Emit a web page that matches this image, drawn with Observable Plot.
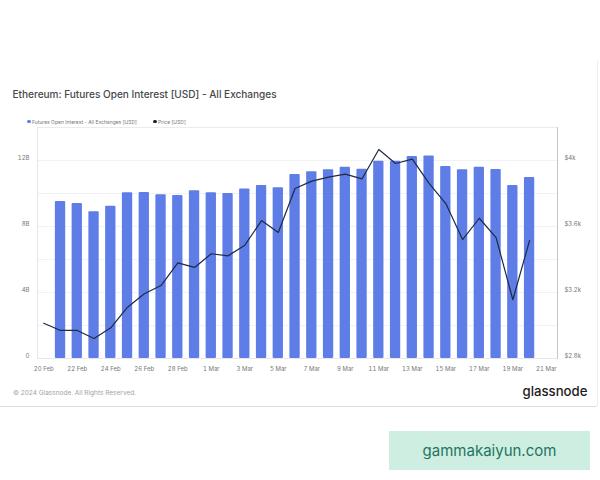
<!DOCTYPE html>
<html>
<head>
<meta charset="utf-8">
<script src="https://cdn.jsdelivr.net/npm/d3@7"></script>
<script src="https://cdn.jsdelivr.net/npm/@observablehq/plot@0.6"></script>
<style>
  html, body { margin: 0; padding: 0; background: #fff; }
  body { width: 600px; height: 480px; position: relative; overflow: hidden; font-family: Inter, sans-serif; }
  #card { position: absolute; left: -2px; top: 60px; width: 599px; height: 346px; border-right: 1px solid #eceef0; border-bottom: 1.5px solid #dcdee0; border-radius: 0 0 3px 0; }
  #title { position: absolute; left: 12.5px; top: 87.5px; font-size: 10.05px; font-weight: 500; color: #45494d; white-space: nowrap; }
  .legend { position: absolute; top: 118.5px; font-size: 5px; color: #777; white-space: nowrap; line-height: 6px; }
  .legend i { position: absolute; left: -5px; top: 1px; width: 3.6px; height: 3.6px; border-radius: 50%; }
  #chart { position: absolute; left: 0; top: 115px; }
  #footer { position: absolute; left: 13px; top: 389px; font-size: 6.5px; color: #a0a2a5; white-space: nowrap; }
  #brand { position: absolute; left: 522.5px; top: 382.5px; font-family: Inter, sans-serif; font-size: 13.2px; font-weight: 500; color: #1c1c1c; white-space: nowrap; }
  #mark { position: absolute; left: 389px; top: 431px; width: 201px; height: 39px; background: #cdeee0; color: #1f7463; font-size: 15px; line-height: 39px; text-align: center; font-family: Inter, sans-serif; font-weight: 400; }
</style>
</head>
<body>
<div id="card"></div>
<div id="title">Ethereum: Futures Open Interest [USD] - All Exchanges</div>
<div class="legend" style="left:32px"><i style="background:#5f7de6"></i>Futures Open Interest - All Exchanges [USD]</div>
<div class="legend" style="left:158px"><i style="background:#1b2233"></i>Price [USD]</div>
<div id="chart"></div>
<div id="footer">© 2024 Glassnode. All Rights Reserved.</div>
<div id="brand">glassnode</div>
<div id="mark">gammakaiyun.com</div>
<script>
const priceDays = ["2024-02-20","2024-02-21","2024-02-22","2024-02-23","2024-02-24","2024-02-25","2024-02-26","2024-02-27","2024-02-28","2024-02-29","2024-03-01","2024-03-02","2024-03-03","2024-03-04","2024-03-05","2024-03-06","2024-03-07","2024-03-08","2024-03-09","2024-03-10","2024-03-11","2024-03-12","2024-03-13","2024-03-14","2024-03-15","2024-03-16","2024-03-17","2024-03-18","2024-03-19","2024-03-20"];
const priceUsd = [3014,2970,2970,2921,2986,3111,3192,3242,3380,3352,3435,3422,3487,3636,3564,3830,3875,3899,3917,3889,4067,3982,4008,3861,3739,3521,3650,3533,3156,3515];
const openInterestB = [9.52,9.39,8.89,9.23,10.04,10.06,9.92,9.88,10.16,10.04,10.0,10.28,10.48,10.35,11.15,11.32,11.44,11.59,11.47,11.96,11.96,12.24,12.28,11.64,11.44,11.59,11.45,10.48,10.97];
const xTickDays = ["2024-02-20","2024-02-22","2024-02-24","2024-02-26","2024-02-28","2024-03-01","2024-03-03","2024-03-05","2024-03-07","2024-03-09","2024-03-11","2024-03-13","2024-03-15","2024-03-17","2024-03-19","2024-03-21"];
const leftTicks = [0,4,8,12];
const leftLabels = ["0","4B","8B","12B"];
const rightLabels = ["$2.8k","$3.2k","$3.6k","$4k"];
const gridLines = [2,4,6,8,10,12];

const toDate = s => new Date(s + "T00:00:00Z");
const priceRows = priceDays.map((d, i) => ({date: toDate(d), price: priceUsd[i]}));
const barRows = priceDays.slice(1).map((d, i) => ({date: toDate(d), oi: openInterestB[i]}));
// The price axis shares the y scale: $2.8k sits on 0 and every $100 spans 1B.
const priceToY = p => (p - 2800) / 100;
const halfBar = d => d3.utcMinute.offset(d, -443);
const halfBarEnd = d => d3.utcMinute.offset(d, 443);

const plot = Plot.plot({
  width: 600,
  height: 265,
  marginLeft: 37,
  marginRight: 43,
  marginTop: 12,
  marginBottom: 22,
  style: {background: "transparent", fontFamily: "Inter, sans-serif", overflow: "visible"},
  x: {type: "utc", domain: [d3.utcHour.offset(toDate("2024-02-20"), -9), d3.utcHour.offset(toDate("2024-03-21"), 16)]},
  y: {domain: [0, 14]},
  marks: [
    Plot.ruleY(gridLines, {stroke: "#f1f2f5", strokeWidth: 1}),
    Plot.ruleY([14], {stroke: "#e9ebee", strokeWidth: 1}),
    Plot.ruleY([0], {stroke: "#e6e8ee", strokeWidth: 1}),
    Plot.frame({anchor: "left", stroke: "#e3e6f0"}),
    Plot.frame({anchor: "right", stroke: "#c4c6c8"}),
    Plot.rectY(barRows, {x1: d => halfBar(d.date), x2: d => halfBarEnd(d.date), y1: 0, y2: "oi", fill: "#5f7de6", rx: 1}),
    Plot.line(priceRows, {x: "date", y: d => priceToY(d.price), stroke: "#1f2a40", strokeWidth: 1.2}),
    Plot.axisX({ticks: xTickDays.map(toDate), tickFormat: d3.utcFormat("%-d %b"), tickSize: 0, tickPadding: 8, fontSize: 6, color: "#777", label: null}),
    Plot.axisY({anchor: "left", ticks: leftTicks, tickFormat: (d, i) => leftLabels[i], tickSize: 0, tickPadding: 8, dy: -2.5, fontSize: 6, color: "#777", label: null}),
    Plot.axisY({anchor: "right", ticks: leftTicks, tickFormat: (d, i) => rightLabels[i], tickSize: 0, tickPadding: 7, dy: -2.5, fontSize: 6, color: "#777", label: null})
  ]
});
document.getElementById("chart").appendChild(plot);
</script>
</body>
</html>
